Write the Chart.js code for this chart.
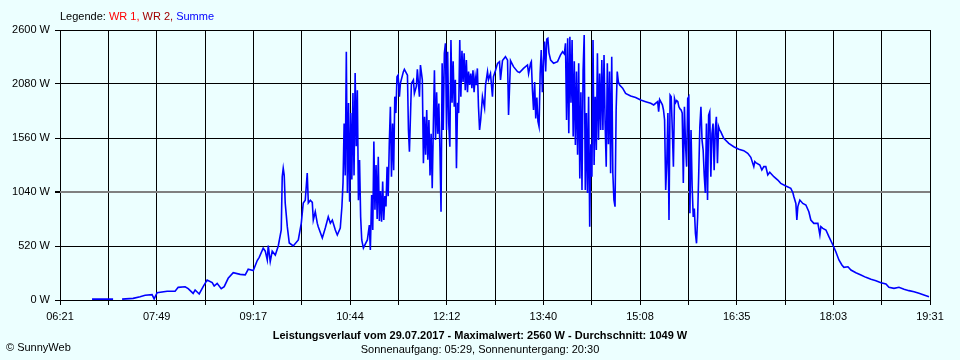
<!DOCTYPE html>
<html>
<head>
<meta charset="utf-8">
<script src="https://cdn.jsdelivr.net/npm/chart.js@4.4.1/dist/chart.umd.min.js"></script>
<style>
  html, body { margin: 0; padding: 0; background: #ecffff; }
  #wrap { position: relative; width: 960px; height: 360px; }
</style>
</head>
<body>
<div id="wrap"><canvas id="chart"></canvas></div>
<script>
// x axis: minutes after 06:21, y axis: watts
const spanMinutes = 790;
const timeLabels = ['06:21', '07:49', '09:17', '10:44', '12:12', '13:40', '15:08', '16:35', '18:03', '19:31'];
const yTickValues = [0, 520, 1040, 1560, 2080, 2600];

const legendTexts = ['Legende: ', 'WR 1, ', 'WR 2, ', 'Summe'];
const legendColors = ['#000000', '#ff0000', '#a00000', '#0000ff'];
const titleText = 'Leistungsverlauf vom 29.07.2017 - Maximalwert: 2560 W - Durchschnitt: 1049 W';
const subtitleText = 'Sonnenaufgang: 05:29, Sonnenuntergang: 20:30';
const creditText = '\u00A9 SunnyWeb';

const minutes = [
    29.1, 48.2, 51.8, 56.4, 66.4, 72.7, 77.3, 83.6, 85.5, 88.2,
    97.3, 104.5, 107.3, 113.6, 116.4, 120.9, 122.7, 126.4, 130, 133.6,
    138.2, 140, 142.7, 146.4, 149.1, 152.7, 157.3, 163.6, 168.2, 170.9,
    175.5, 179.1, 180.9, 184.5, 186.4, 188.2, 189.1, 190.9, 192.7, 195.5,
    198.2, 200.9, 201.8, 202.7, 203.6, 204.5, 206.4, 208.2, 211.8, 216.4,
    219.1, 220.9, 222.7, 224.5, 225.5, 227.3, 229.1, 230, 231.8, 233.6,
    234.5, 238.2, 240.9, 243.6, 245.5, 247.3, 250, 251.8, 254.5, 256,
    257, 258, 259, 260, 261, 262, 263, 264, 265, 266,
    267, 268, 269, 270, 271, 272, 273, 274, 275.5, 277.3,
    279.1, 280.9, 281.8, 283, 284, 285, 286, 287, 288, 289,
    290, 291, 292, 293, 294, 295, 296, 297, 298, 299,
    300, 301, 302, 303, 304, 305, 306, 307, 308.2, 309.1,
    311.8, 312.7, 315.5, 316.4, 317.3, 319.1, 320.9, 321.8, 323.6, 324.5,
    326.4, 327.3, 329, 330, 331, 332, 333, 334, 335, 336,
    337, 338, 339, 340, 341, 342, 343, 344, 345, 346,
    347, 348, 349, 350, 351, 352, 353, 354, 355, 356,
    357, 358, 359, 360, 361, 362, 363, 364, 365, 366,
    367, 368, 369, 370, 371, 372, 373, 374, 375, 376,
    377, 378, 379, 380, 381, 382, 383.6, 385.5, 386.4, 388.2,
    389.1, 390.9, 392.7, 393.6, 395.5, 397.3, 399.1, 400, 401.8, 404.5,
    406.4, 407.3, 409.1, 411.8, 415.5, 417.3, 420.9, 424.5, 425.5, 427.3,
    428, 429, 430, 431, 432, 433, 434, 435, 436, 437,
    438, 439, 440, 441, 442, 443, 444, 445.5, 448.2, 451.8,
    454.5, 456.4, 458, 459, 460, 461, 462, 463, 464, 465,
    466, 467, 468, 469, 470, 471, 472, 473, 474, 475,
    476, 477, 478, 479, 480, 481, 482, 483, 484, 485,
    486, 487, 488, 489, 490, 491, 492, 493, 494, 495,
    496, 497, 498, 499, 500, 501, 502, 503, 504, 505,
    506, 507, 508.2, 510.9, 513.6, 518.2, 522.7, 527.3, 531.8, 536.4,
    539.1, 542.7, 543.6, 544.5, 546, 547, 548, 549, 550, 551,
    552, 553, 554, 555, 556, 557, 558, 559, 560, 561,
    562, 563, 564, 565, 566, 567, 568, 569, 570, 571,
    572, 573, 574, 575, 576, 577, 578, 579, 580, 581,
    582, 583, 584, 585, 586, 587, 588, 589, 590, 591,
    592, 593, 594, 595, 596, 597, 598, 599, 600, 602.7,
    607.3, 611.8, 616.4, 620.9, 624.5, 627.3, 630, 630.9, 631.8, 635.5,
    637.3, 639.1, 640.9, 642.7, 644.5, 648.2, 651.8, 654.5, 659.1, 663.6,
    665.5, 666.4, 668.2, 669.1, 670, 671.8, 674.5, 677.3, 680, 681.8,
    684.5, 688.2, 690, 690.9, 692.7, 695.5, 698.2, 701.8, 704.5, 707.3,
    710, 711.8, 715.5, 718.2, 722.7, 727.3, 731.8, 736.4, 740.9, 745.5,
    750, 752.7, 757.3, 761.8, 766.4, 770.9, 775.5, 780, 784.5, 789.1
];

const watts = [
    8, 8, null, 8, 16, 32, 45, 51, 10, 70,
    84, 85, 122, 128, 110, 64, 96, 58, 128, 193,
    167, 135, 160, 109, 128, 209, 263, 247, 242, 296,
    283, 380, 411, 500, 470, 385, 524, 369, 470, 433,
    520, 674, 1187, 1268, 1200, 934, 706, 549, 520, 578,
    741, 934, 960, 1222, 934, 960, 940, 770, 850, 740,
    706, 597, 693, 802, 740, 770, 674, 626, 693, 900,
    1130, 1700, 1200, 2391, 1030, 1897, 946, 1800, 1160, 1993,
    1200, 2186, 1480, 2020, 960, 1348, 800, 578, 500, 540,
    578, 722, 481, 1011, 674, 1525, 870, 1300, 780, 1380,
    760, 1050, 754, 1140, 770, 1000, 900, 1284, 1000, 1500,
    1861, 1187, 1700, 1250, 1958, 1800, 2150, 2165, 1958, 2086,
    2199, 2221, 2165, 1637, 1428, 2086, 2120, 1990, 2058, 2221,
    1958, 2263, 2120, 1316, 1765, 1400, 1830, 1350, 1733, 1200,
    1600, 1076, 1670, 2213, 1540, 2000, 1600, 1893, 1444, 850,
    2279, 1637, 2376, 2472, 1637, 2391, 1700, 1476, 2504, 1900,
    2300, 1861, 2120, 1268, 1900, 1800, 2504, 1958, 2400, 2100,
    2376, 2020, 2311, 2000, 2200, 2070, 2180, 2040, 2213, 2000,
    2150, 2070, 2230, 1861, 1637, 1733, 1958, 1850, 2070, 2199,
    2120, 2180, 1958, 2150, 2213, 2279, 2295, 2120, 2305, 2343,
    2310, 1781, 2305, 2247, 2199, 2190, 2230, 2263, 2180, 2279,
    2295, 2020, 1830, 2100, 1749, 1950, 1720, 1670, 2180, 2407,
    2000, 2300, 2488, 2200, 2511, 2520, 2380, 2311, 2279, 2295,
    2360, 2391, 2370, 2472, 1733, 2520, 1605, 2536, 1900, 2504,
    1575, 2300, 1492, 2200, 1400, 2279, 1171, 2000, 1059, 2213,
    2552, 1059, 1800, 1030, 1958, 706, 1500, 1187, 2504, 1300,
    1958, 1444, 2376, 1540, 2180, 1637, 2311, 1637, 2359, 1700,
    1284, 2279, 1500, 2200, 1220, 2343, 1220, 963, 899, 1830,
    2199, 2100, 2070, 2040, 1990, 1965, 1950, 1926, 1910, 1894,
    1878, 1910, 1813, 1930, 1900, 1880, 1830, 1733, 1059, 1316,
    1800, 770, 1974, 1958, 1637, 1284, 1940, 1900, 1920, 1910,
    1860, 1840, 1830, 1800, 1127, 1860, 1500, 1284, 1940, 1958,
    835, 1637, 1100, 800, 880, 642, 546, 800, 1220, 1669,
    1860, 1540, 1444, 1200, 1030, 1700, 963, 1780, 1813, 1187,
    1600, 1700, 1250, 1637, 1765, 1316, 1670, 1637, 1621, 1557,
    1508, 1476, 1451, 1438, 1412, 1374, 1284, 1332, 1323, 1300,
    1252, 1284, 1284, 1204, 1230, 1187, 1155, 1123, 1097, 1075,
    1033, 995, 930, 770, 900, 963, 930, 915, 850, 770,
    738, 738, 626, 706, 690, 674, 610, 530, 465, 385,
    337, 315, 320, 289, 263, 241, 218, 199, 186, 167,
    154, 122, 112, 122, 103, 90, 80, 64, 48, 32
];

const FONT = "'Liberation Sans', Arial, sans-serif";

// legend, title and credit lines drawn around the plot
const textPlugin = {
    id: 'sunnyText',
    afterDraw(chart) {
        const ctx = chart.ctx;
        ctx.save();
        ctx.textBaseline = 'alphabetic';
        ctx.textAlign = 'left';
        ctx.font = '11px ' + FONT;
        let x = 60;
        legendTexts.forEach((t, i) => {
            ctx.fillStyle = legendColors[i];
            ctx.fillText(t, x, 20);
            x += ctx.measureText(t).width;
        });

        ctx.fillStyle = '#000';
        ctx.fillText(creditText, 6, 351);

        ctx.textAlign = 'center';
        ctx.font = 'bold 11px ' + FONT;
        ctx.fillText(titleText, 480, 339);
        ctx.font = '11px ' + FONT;
        ctx.fillText(subtitleText, 480, 353);
        ctx.restore();
    }
};

new Chart(document.getElementById('chart'), {
    type: 'line',
    data: {
        datasets: [{
            data: minutes.map((m, i) => ({ x: m, y: watts[i] })),
            borderColor: '#0000ff',
            borderWidth: 1.6,
            pointRadius: 0,
            tension: 0,
            spanGaps: false
        }]
    },
    options: {
        responsive: true,
        maintainAspectRatio: false,
        animation: false,
        layout: { padding: { top: 30, right: 30, left: 0, bottom: 0 } },
        plugins: {
            legend: { display: false },
            tooltip: { enabled: false }
        },
        scales: {
            x: {
                type: 'linear',
                min: 0,
                max: spanMinutes,
                z: 1,
                afterBuildTicks: (s) => {
                    s.ticks = Array.from({ length: 19 }, (_, i) => ({ value: i * spanMinutes / 18 }));
                },
                afterFit: (s) => { s.height = 60; },
                border: { display: false },
                grid: { color: '#000', lineWidth: 1, tickLength: 5, tickColor: '#000' },
                ticks: {
                    autoSkip: false,
                    maxRotation: 0,
                    color: '#000',
                    padding: 5,
                    font: { family: FONT, size: 11 },
                    callback: (v, i) => (i % 2 === 0 ? timeLabels[i / 2] : '')
                }
            },
            y: {
                min: 0,
                max: 2600,
                z: 1,
                afterBuildTicks: (s) => {
                    s.ticks = yTickValues.map(v => ({ value: v }));
                },
                afterFit: (s) => { s.width = 60; },
                border: { display: false },
                grid: {
                    color: (c) => (c.tick && c.tick.value === 1040 ? '#808080' : '#000'),
                    lineWidth: (c) => (c.tick && c.tick.value === 1040 ? 2 : 1),
                    tickLength: 5,
                    tickColor: '#000'
                },
                ticks: {
                    color: '#000',
                    padding: 5,
                    font: { family: FONT, size: 11 },
                    callback: (v) => v + ' W'
                }
            }
        }
    },
    plugins: [textPlugin]
});
</script>
</body>
</html>
